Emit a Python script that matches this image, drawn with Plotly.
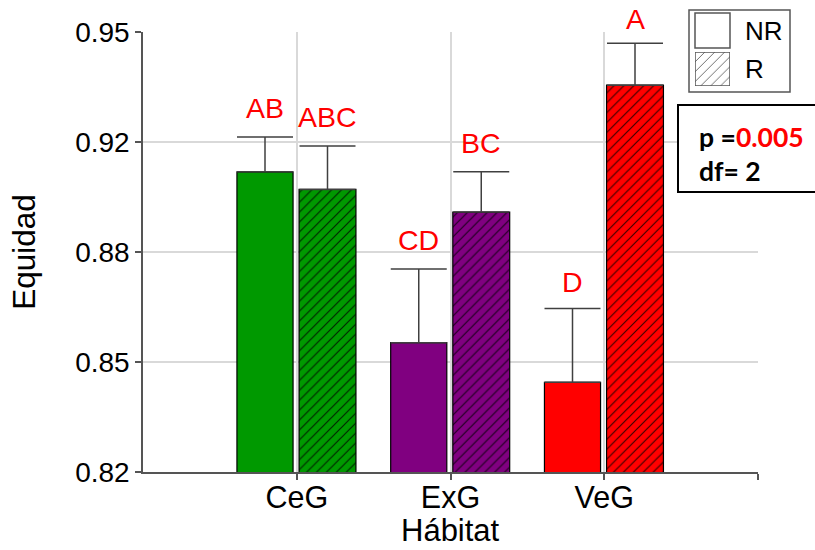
import plotly.graph_objects as go

# ---------------- data ----------------
categories = ["CeG", "ExG", "VeG"]
nr_values = [0.9087, 0.8582, 0.8465]
nr_errors = [0.0103, 0.0218, 0.0218]
r_values = [0.9035, 0.8968, 0.9343]
r_errors = [0.0128, 0.0119, 0.0124]
nr_letters = ["AB", "CD", "D"]
r_letters = ["ABC", "BC", "A"]
bar_colors = ["#009900", "#800080", "#FF0000"]
y_tickvals = [0.82, 0.8525, 0.885, 0.9175, 0.95]
y_ticktext = ["0.82", "0.85", "0.88", "0.92", "0.95"]
series_names = ["NR", "R"]
x_title = "Hábitat"
y_title = "Equidad"
p_value = "0.005"
df_value = "2"

# style only
nr_letter_shift = [11, 11, 9]
r_letter_shift = [11, 11, 6]

positions = list(range(1, len(categories) + 1))
x_tickvals = positions + [len(categories) + 1]
x_ticktext = categories + [""]
X_RANGE = [0, len(categories) + 1]
Y_RANGE = [0.82, 0.95]

NR_OFFSET, NR_WIDTH = -0.389, 0.365
R_OFFSET, R_WIDTH = 0.015, 0.37
AXIS_COLOR = "#555555"
GRID_COLOR = "#d9d9d9"
FONT = "Liberation Sans, Arial, sans-serif"

# plot-area geometry (px) used only for decorative legend / stats box placement
L, T, W, H = 143.0, 32.0, 615.0, 440.0


def px_x(px):
    return (px - L) / W


def px_y(py):
    return (T + H - py) / H


def dx(px):
    return X_RANGE[0] + px_x(px) * (X_RANGE[1] - X_RANGE[0])


def dy(py):
    return Y_RANGE[0] + px_y(py) * (Y_RANGE[1] - Y_RANGE[0])


fig = go.Figure()

for i, cat in enumerate(categories):
    fig.add_trace(go.Bar(
        x=[positions[i]], y=[nr_values[i]], name=f"{series_names[0]} {cat}",
        offset=NR_OFFSET, width=NR_WIDTH,
        marker=dict(color=bar_colors[i], line=dict(color="#000000", width=1.2)),
        error_y=dict(type="data", array=[nr_errors[i]], arrayminus=[0],
                     symmetric=False, color="#404040", thickness=1.5, width=28),
        showlegend=False,
    ))
    fig.add_trace(go.Bar(
        x=[positions[i]], y=[r_values[i]], name=f"{series_names[1]} {cat}",
        offset=R_OFFSET, width=R_WIDTH,
        marker=dict(color=bar_colors[i], line=dict(color="#000000", width=1.2),
                    pattern=dict(shape="/", fgcolor="#000000", bgcolor=bar_colors[i],
                                 fillmode="replace", fgopacity=0.75,
                                 size=7, solidity=0.17)),
        error_y=dict(type="data", array=[r_errors[i]], arrayminus=[0],
                     symmetric=False, color="#404040", thickness=1.5, width=28),
        showlegend=False,
    ))

# significance letters
for p, v, e, t, s in zip(positions, nr_values, nr_errors, nr_letters, nr_letter_shift):
    fig.add_annotation(x=p + NR_OFFSET + NR_WIDTH / 2, y=v + e, text=t,
                       showarrow=False, yanchor="bottom", yshift=s,
                       font=dict(family=FONT, size=28.5, color="#FF0000"))
for p, v, e, t, s in zip(positions, r_values, r_errors, r_letters, r_letter_shift):
    fig.add_annotation(x=p + R_OFFSET + R_WIDTH / 2, y=v + e, text=t,
                       showarrow=False, yanchor="bottom", yshift=s,
                       font=dict(family=FONT, size=28.5, color="#FF0000"))

# ---------------- custom legend ----------------
# white background (between gridlines and traces)
fig.add_shape(type="rect", xref="x", yref="y", layer="between",
              x0=dx(689), x1=dx(790), y0=dy(92), y1=dy(10),
              fillcolor="white", line=dict(width=0))
# border
fig.add_shape(type="rect", xref="paper", yref="paper", layer="above",
              x0=px_x(689), x1=px_x(790), y0=px_y(92), y1=px_y(10),
              fillcolor="rgba(0,0,0,0)", line=dict(color=AXIS_COLOR, width=1.5))
# NR swatch
fig.add_shape(type="rect", xref="paper", yref="paper", layer="above",
              x0=px_x(695), x1=px_x(730), y0=px_y(48), y1=px_y(13),
              fillcolor="white", line=dict(color=AXIS_COLOR, width=1.5))
# R swatch (hatched)
fig.add_trace(go.Bar(
    x=[0], y=[1], width=[1], xaxis="x2", yaxis="y2", cliponaxis=False,
    marker=dict(color="white", line=dict(color=AXIS_COLOR, width=1.5),
                pattern=dict(shape="/", fgcolor="#555555", bgcolor="white",
                             fillmode="replace", fgopacity=1,
                             size=7, solidity=0.12)),
    showlegend=False, hoverinfo="skip",
))
fig.add_annotation(xref="paper", yref="paper", x=px_x(743), y=px_y(31),
                   xanchor="left", yanchor="middle", showarrow=False,
                   text=series_names[0], font=dict(family=FONT, size=26, color="#000"))
fig.add_annotation(xref="paper", yref="paper", x=px_x(743), y=px_y(69),
                   xanchor="left", yanchor="middle", showarrow=False,
                   text=series_names[1], font=dict(family=FONT, size=26, color="#000"))

# ---------------- stats box ----------------
fig.add_shape(type="rect", xref="paper", yref="paper", layer="above",
              x0=px_x(678), x1=px_x(830), y0=px_y(192), y1=px_y(105),
              fillcolor="white", line=dict(color="#000000", width=2))
fig.add_annotation(xref="paper", yref="paper", x=px_x(697), y=px_y(137),
                   xanchor="left", yanchor="middle", showarrow=False,
                   text=f"<b>p =<span style='color:#FF0000'>{p_value}</span></b>",
                   font=dict(family="Lato, sans-serif", size=26.5, color="#000"))
fig.add_annotation(xref="paper", yref="paper", x=px_x(697), y=px_y(171),
                   xanchor="left", yanchor="middle", showarrow=False,
                   text=f"<b>df= {df_value}</b>",
                   font=dict(family="Lato, sans-serif", size=26.5, color="#000"))

# x-axis title (placed as annotation so it can sit lower than axis-title limits allow)
fig.add_annotation(xref="paper", yref="paper", x=0.5, y=px_y(530),
                   xanchor="center", yanchor="middle", showarrow=False,
                   text=x_title, font=dict(family=FONT, size=31, color="#000"))

fig.update_layout(
    width=815, height=550,
    margin=dict(l=143, r=57, t=32, b=78),
    paper_bgcolor="white", plot_bgcolor="white",
    barmode="overlay",
    font=dict(family=FONT, color="#000000"),
    xaxis=dict(
        range=X_RANGE, tickvals=x_tickvals, ticktext=x_ticktext,
        showline=True, linecolor=AXIS_COLOR, linewidth=1.5,
        ticks="outside", ticklen=6, tickcolor=AXIS_COLOR, tickwidth=1.5,
        ticklabelstandoff=-8, automargin=False,
        showgrid=True, gridcolor=GRID_COLOR, gridwidth=1.5, zeroline=False,
        tickfont=dict(size=30.5, color="#000"),
    ),
    yaxis=dict(
        range=Y_RANGE, tickvals=y_tickvals, ticktext=y_ticktext,
        showline=True, linecolor=AXIS_COLOR, linewidth=1.5,
        ticks="outside", ticklen=6, tickcolor=AXIS_COLOR, tickwidth=1.5,
        automargin=False,
        showgrid=True, gridcolor=GRID_COLOR, gridwidth=1.5, zeroline=False,
        tickfont=dict(size=28, color="#000"),
        title=dict(text=y_title, font=dict(size=31.5, color="#000"), standoff=30),
    ),
    xaxis2=dict(domain=[px_x(695), px_x(730)], range=[-0.5, 0.5], visible=False,
                anchor="y2", fixedrange=True),
    yaxis2=dict(domain=[px_y(86), px_y(52)], range=[0, 1], visible=False,
                anchor="x2", fixedrange=True),
)

fig.write_html(
    "out.html",
    config={"displayModeBar": False},
    post_script="document.body.style.margin='0';document.body.style.overflow='hidden';",
)
